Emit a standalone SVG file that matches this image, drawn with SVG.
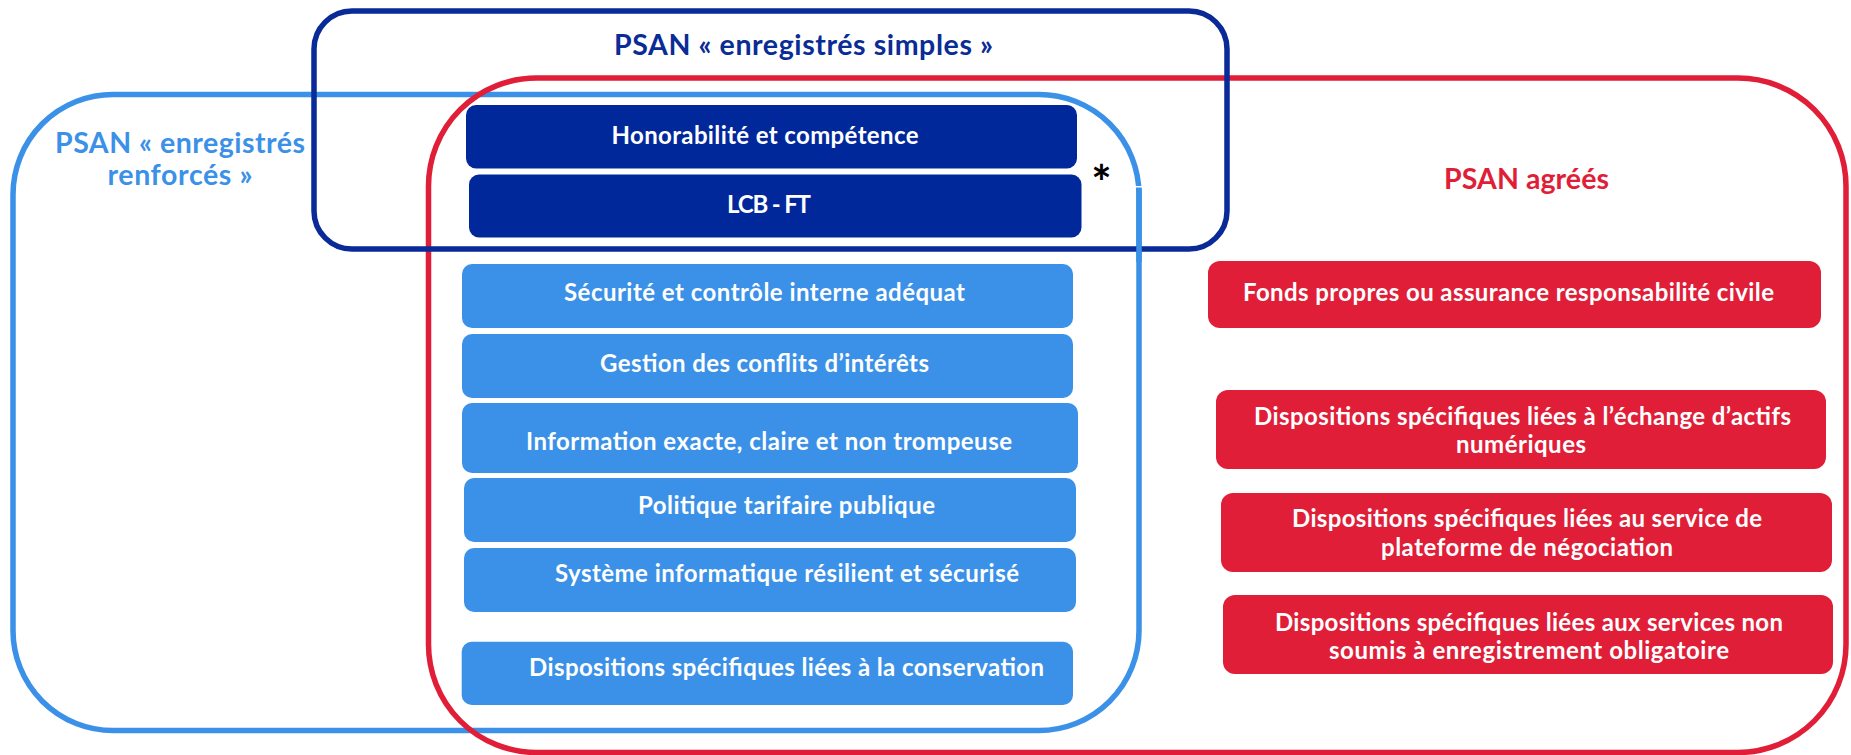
<svg xmlns="http://www.w3.org/2000/svg" width="1851" height="755" viewBox="0 0 1851 755">
  <style>
    .frame { fill: none; stroke-width: 5.5; }
    .f-light { stroke: #3B91E7; }
    .f-red { stroke: #E01E37; }
    .f-navy { stroke: #0A2A98; }
    .box-navy { fill: #00289B; }
    .box-light { fill: #3B91E7; }
    .box-red { fill: #E01E37; }
    text { font-family: Lato, "Open Sans", "Liberation Sans", sans-serif; font-weight: 700; }
    .lbl { fill: #FFFFFF; font-size: 24px; text-anchor: middle; }
    .title { font-size: 28.5px; text-anchor: middle; }
  </style>

  <rect width="1851" height="755" fill="#FFFFFF"/>

  <!-- category frames -->
  <g id="frames">
    <rect id="frame-renforces" class="frame f-light" x="13" y="94.5" width="1126" height="636" rx="100" ry="100"/>
    <rect id="frame-agrees" class="frame f-red" x="428.5" y="78" width="1417.5" height="674.5" rx="108" ry="108"/>
    <rect id="frame-simples" class="frame f-navy" x="314" y="11" width="913" height="238" rx="38" ry="38"/>
    <!-- right side of the light frame, drawn over the navy frame -->
    <line class="frame f-light" x1="1139" y1="187.5" x2="1139" y2="262"/>
    <rect x="1135" y="186" width="8" height="1.5" fill="#FFFFFF"/>
  </g>

  <!-- frame titles -->
  <g id="titles">
    <text class="title" x="803.5" y="55" fill="#0A2C96" textLength="379">PSAN « enregistrés simples »</text>
    <text class="title" x="180" y="153" fill="#3B91E7" textLength="250">PSAN « enregistrés</text>
    <text class="title" x="180" y="185" fill="#3B91E7" textLength="145">renforcés »</text>
    <text class="title" x="1526.5" y="189" fill="#E01E37" textLength="165">PSAN agréés</text>
  </g>

  <!-- requirements shared by all registered providers -->
  <g id="node-honorabilite">
    <rect class="box-navy" x="466" y="105" width="611" height="63.5" rx="10"/>
    <text class="lbl" x="765" y="143.5" textLength="307">Honorabilité et compétence</text>
  </g>
  <g id="node-lcbft">
    <rect class="box-navy" x="469" y="174.5" width="612.5" height="63" rx="10"/>
    <text class="lbl" x="769" y="213" textLength="84">LCB - FT</text>
  </g>
  <text id="asterisk" x="1101.5" y="200" font-family="'DejaVu Sans', sans-serif" font-weight="700" font-size="48" text-anchor="middle" fill="#000000">*</text>

  <!-- reinforced registration requirements -->
  <g id="node-securite">
    <rect class="box-light" x="462" y="264" width="611" height="64" rx="10"/>
    <text class="lbl" x="764.5" y="300.7" textLength="401">Sécurité et contrôle interne adéquat</text>
  </g>
  <g id="node-conflits">
    <rect class="box-light" x="462" y="334" width="611" height="64" rx="10"/>
    <text class="lbl" x="764.5" y="371.7" textLength="329">Gestion des conflits d’intérêts</text>
  </g>
  <g id="node-information">
    <rect class="box-light" x="462" y="403" width="616" height="70" rx="10"/>
    <text class="lbl" x="769" y="450" textLength="486">Information exacte, claire et non trompeuse</text>
  </g>
  <g id="node-tarifaire">
    <rect class="box-light" x="464" y="478" width="612" height="64" rx="10"/>
    <text class="lbl" x="786.5" y="514" textLength="297">Politique tarifaire publique</text>
  </g>
  <g id="node-systeme">
    <rect class="box-light" x="464" y="548" width="612" height="64" rx="10"/>
    <text class="lbl" x="787" y="581.7" textLength="464">Système informatique résilient et sécurisé</text>
  </g>
  <g id="node-conservation">
    <rect class="box-light" x="461.7" y="641.7" width="611.3" height="63.3" rx="10"/>
    <text class="lbl" x="786.5" y="675.7" textLength="515">Dispositions spécifiques liées à la conservation</text>
  </g>

  <!-- licensed provider requirements -->
  <g id="node-fonds-propres">
    <rect class="box-red" x="1208" y="261" width="613" height="67" rx="12"/>
    <text class="lbl" x="1508.5" y="300.7" textLength="531">Fonds propres ou assurance responsabilité civile</text>
  </g>
  <g id="node-echange">
    <rect class="box-red" x="1216" y="390" width="610" height="79" rx="12"/>
    <text class="lbl" x="1522.5" y="425" textLength="537">Dispositions spécifiques liées à l’échange d’actifs</text>
    <text class="lbl" x="1521" y="453" textLength="130">numériques</text>
  </g>
  <g id="node-plateforme">
    <rect class="box-red" x="1221" y="493" width="611" height="79" rx="12"/>
    <text class="lbl" x="1527" y="527" textLength="470">Dispositions spécifiques liées au service de</text>
    <text class="lbl" x="1527" y="556" textLength="292">plateforme de négociation</text>
  </g>
  <g id="node-non-soumis">
    <rect class="box-red" x="1223" y="595" width="610" height="79" rx="12"/>
    <text class="lbl" x="1529" y="631" textLength="508">Dispositions spécifiques liées aux services non</text>
    <text class="lbl" x="1529" y="659.3" textLength="400">soumis à enregistrement obligatoire</text>
  </g>

  <!-- no connectors between nodes -->
  <g id="connectors"/>
</svg>
